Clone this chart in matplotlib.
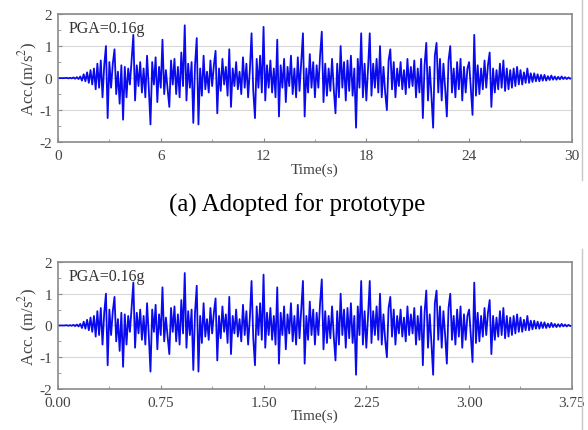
import numpy as np
import matplotlib.pyplot as plt
from matplotlib.lines import Line2D

plt.rcParams['font.family'] = ['Liberation Serif', 'DejaVu Serif']
plt.rcParams['mathtext.fontset'] = 'stix'
plt.rcParams['axes.unicode_minus'] = False

# acceleration record (m/s^2), one value every 0.1 s of prototype time
acc = [
    0, 0, 0, 0, 0, 0.01, -0.01, 0.01, -0.01, 0.02,
    -0.02, 0.03, -0.03, 0.05, -0.08, 0.12, -0.1, 0.18, -0.15, 0.25,
    -0.2, 0.3, -0.35, 0.45, -0.3, 0.55, -0.6, 0.4, 1.0, -1.25,
    0.5, -0.3, 0.45, 0.9, -0.5, 0.2, -0.8, 0.4, -1.3, 0.35,
    -0.6, 0.3, -0.2, 0.6, 1.35, -0.7, 0.4, -0.25, 0.5, -0.45,
    0.3, -0.6, 0.7, -0.3, -1.45, 0.5, -0.2, 0.65, -0.75, 0.35,
    -0.3, 1.2, -0.5, 0.25, -0.35, -0.9, 0.55, -0.2, 0.6, -0.5,
    0.35, -0.6, 0.8, -0.25, 1.65, -0.7, 0.45, -0.3, 0.5, -1.4,
    0.4, 1.25, -1.45, 0.3, -0.55, 0.7, -0.35, 0.2, -0.45, 0.55,
    -0.25, 0.4, 0.85, -1.1, 0.3, -0.4, 0.6, -0.2, 0.35, -0.55,
    0.9, -0.9, 0.3, -0.25, 0.5, -0.35, 0.2, -0.5, 0.65, -0.3,
    0.45, -0.6, 0.25, 1.4, -0.4, -1.25, 0.6, -0.3, 0.7, -0.45,
    1.6, -0.7, 0.4, -0.3, 0.55, -0.45, 0.3, -0.6, 1.2, -1.2,
    0.4, -0.3, 0.6, -0.75, 0.35, -0.25, 0.7, -0.5, 0.3, -0.6,
    0.65, -0.4, 0.5, 1.4, -1.2, 0.3, -0.45, 0.75, -0.3, 0.5,
    -0.6, 0.4, -0.3, 0.7, 1.45, -0.75, 0.45, -0.55, 0.3, -0.4,
    0.6, -0.35, -1.1, 0.45, -0.6, 1.0, -0.3, 0.5, -0.7, 0.55,
    -0.4, 0.7, -0.55, 0.3, -1.55, 0.6, -0.3, 1.4, -0.6, 0.45,
    -0.7, 0.3, 1.4, -0.55, 0.45, -0.3, 0.6, -0.45, 1.0, -0.6,
    0.35, -0.45, -1.0, 0.55, 0.9, -0.35, 0.5, -0.6, 0.3, -0.25,
    0.5, -0.35, 0.25, -0.5, 0.6, -0.3, 0.35, -0.25, 0.55, -0.6,
    0.3, -0.45, 0.6, -1.25, 0.4, 1.1, -0.7, 0.35, -0.55, -1.55,
    0.7, 1.1, -0.45, 0.6, -0.7, 0.45, -0.3, -1.2, 0.55, 1.0,
    -0.45, 0.3, -0.6, 0.5, -0.35, 0.6, -0.7, 0.35, -0.45, 0.3,
    0.5, -0.35, -1.15, 1.35, -0.55, 0.4, -0.5, 0.3, -0.35, 0.55,
    -0.3, 0.4, 0.8, -0.9, 0.3, -0.45, 0.25, -0.35, 0.45, -0.3,
    0.55, -0.4, 0.3, -0.35, 0.25, -0.3, 0.3, -0.25, 0.35, -0.2,
    0.25, -0.2, 0.18, -0.15, 0.3, -0.15, 0.15, -0.12, 0.15, -0.1,
    0.12, -0.1, 0.1, -0.08, 0.1, -0.08, 0.06, -0.06, 0.08, -0.05,
    0.05, -0.05, 0.04, -0.04, 0.05, -0.03, 0.03, -0.03, 0.02, -0.02,
    0,
]
dt_proto = 0.1
dt_model = 0.0125  # time scale 1/8

proto_ticks = [0, 6, 12, 18, 24, 30]
model_ticks = [0.00, 0.75, 1.50, 2.25, 3.00, 3.75]
model_tick_labels = ['0.00', '0.75', '1.50', '2.25', '3.00', '3.75']

t_proto = np.arange(len(acc)) * dt_proto
t_model = np.arange(len(acc)) * dt_model

fig = plt.figure(figsize=(5.88, 4.31), dpi=100)
ax1 = fig.add_axes([0.0986, 0.668, 0.874, 0.297])
ax2 = fig.add_axes([0.0986, 0.095, 0.874, 0.295])


def style(ax, t, ticks, labels, ylab):
    ax.plot(t, acc, color='#0a0aee', lw=1.3)
    ax.set_xlim(ticks[0], ticks[-1])
    ax.set_ylim(-2, 2)
    ax.set_yticks([-2, -1, 0, 1, 2])
    ax.set_yticks([-1.5, -0.5, 0.5, 1.5], minor=True)
    ax.set_xticks(ticks)
    ax.set_xticklabels(labels)
    step = ticks[1] - ticks[0]
    ax.set_xticks([x + step / 2 for x in ticks[:-1]], minor=True)
    ax.grid(axis='y', color='#d8d8d8', lw=0.8)
    ax.set_axisbelow(True)
    for s in ax.spines.values():
        s.set_color('#8a8a8a')
        s.set_linewidth(1.2)
    ax.tick_params(which='both', direction='in', colors='#8a8a8a',
                   labelcolor='#444444', labelsize=11)
    ax.tick_params(axis='x', pad=5)
    ax.tick_params(axis='y', pad=4)
    ax.tick_params(which='major', length=3)
    ax.tick_params(which='minor', length=2)
    ax.set_xlabel('Time(s)', fontsize=11, color='#444444', labelpad=0)
    ax.set_ylabel(ylab, fontsize=12, color='#444444', labelpad=0)
    ax.text(0.02, 0.95, 'PGA=0.16g', transform=ax.transAxes, fontsize=11.5,
            color='#333333', va='top', ha='left')


style(ax1, t_proto, proto_ticks, [str(v) for v in proto_ticks], 'Acc.(m/s$^2$)')
style(ax2, t_model, model_ticks, model_tick_labels, 'Acc. (m/s$^2$)')

fig.text(0.506, 1 - 205 / 431, '(a) Adopted for prototype', fontsize=18,
         ha='center', va='center', color='black')

# thin border line at right edge of the scanned figure
fig.add_artist(Line2D([0.99, 0.99], [0.58, 1.0], transform=fig.transFigure,
                      color='#c8c8c8', lw=1))
fig.add_artist(Line2D([0.99, 0.99], [0.0, 0.42], transform=fig.transFigure,
                      color='#c8c8c8', lw=1))

fig.savefig('out.png', dpi=100)
